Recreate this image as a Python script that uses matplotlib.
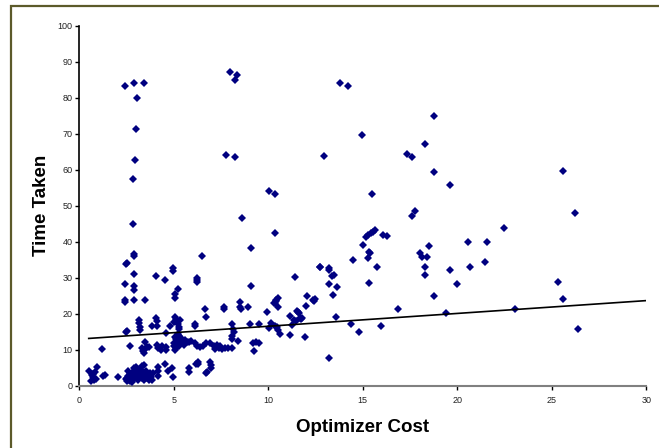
import matplotlib
matplotlib.use("Agg")
import matplotlib.pyplot as plt
from matplotlib.patches import Rectangle

plt.rcParams['font.family'] = ['Liberation Sans', 'DejaVu Sans']

# Optimizer cost vs time taken
cost = [
    2.43, 2.88, 3.44, 3.04, 2.98, 2.93, 2.86, 2.86,
    7.99, 8.33, 8.25, 7.78, 8.25, 10.02, 10.35, 8.59, 12.93,
    13.79, 14.2, 18.78, 14.94, 18.27, 17.32, 17.6, 18.78, 25.61, 19.61, 15.47, 17.78, 17.62, 26.23,
    22.47, 15.15, 15.29, 15.42, 15.52, 15.63, 16.05, 16.3, 15.01, 15.38, 15.33, 15.26, 14.46, 15.73,
    15.35, 18.01, 18.15, 18.42, 18.5, 18.27, 18.27, 18.78, 19.61, 20.0, 20.58, 20.66, 21.57, 21.47,
    16.88, 19.42, 23.07, 14.36, 14.82, 15.95, 13.58, 13.23,
    12.74, 13.21, 13.21, 13.35, 13.46, 13.21, 13.65, 13.41,
    25.31, 25.58, 26.37,
    10.37, 9.1, 6.51, 2.88, 2.88, 2.54, 2.46, 2.88, 4.04, 4.53, 4.94, 4.94, 5.24, 5.06, 5.06,
    6.22, 6.22, 6.22, 2.43, 2.88, 2.88, 2.43, 2.43, 2.88, 3.46, 9.1, 11.41, 12.72,
    10.5, 10.41, 10.32, 12.05, 12.45, 12.38,
    2.46, 2.52, 2.68, 1.2, 3.18, 3.18, 3.2, 3.2, 3.47, 3.3, 3.35, 3.4, 3.5, 3.6, 3.7,
    4.08, 4.1, 4.1, 3.83, 4.1, 4.15, 4.3, 4.4, 4.57, 4.6, 4.6, 4.78,
    5.05, 5.1, 5.15, 5.2, 5.25, 5.3, 5.0, 5.35,
    6.14, 6.13, 6.65, 6.69, 7.64, 7.64, 8.5, 8.5, 8.55, 8.94,
    5.0, 5.05, 5.1, 5.15, 5.2, 5.25, 5.3, 5.4, 5.45, 5.55, 5.6, 5.7, 5.0, 5.1, 5.3, 5.2, 5.08, 5.9, 5.8,
    6.1, 6.25, 6.4, 6.55, 6.7, 6.9, 7.15, 7.2, 7.3, 7.45, 7.55, 7.7, 7.85, 8.1, 7.4,
    8.06, 8.15, 8.2, 8.1, 8.1, 8.38, 9.05, 9.53, 9.92, 10.04, 10.14, 10.36, 10.43, 10.53,
    10.33, 10.47, 10.53, 10.64, 11.13, 11.16, 11.27,
    11.34, 11.45, 11.5, 11.55, 11.6, 11.7, 11.75, 11.8, 11.93, 12.0, 12.43,
    9.2, 9.36, 9.5, 9.26,
    6.26, 6.2, 6.3, 6.93, 6.95, 6.95, 6.74, 6.7,
    5.8, 5.8, 4.92, 4.97, 4.71, 4.56, 4.15, 4.15, 4.15, 3.9,
    2.05,
    0.5, 0.6, 0.7, 0.75, 0.85, 0.9, 0.95, 1.27, 1.36, 0.65, 0.8,
    2.5, 2.55, 2.6, 2.65, 2.7, 2.75, 2.8, 2.85, 2.9, 2.95, 3.0, 3.05, 3.1, 3.15, 3.2, 3.25, 3.3,
    3.35, 3.4, 3.45, 3.5, 3.55, 3.6, 3.65, 3.7, 3.75, 3.8, 2.6, 2.9, 3.0, 3.3, 2.7, 2.45, 3.4, 3.85,
]
time_taken = [
    83.3, 84.2, 84.1, 79.8, 71.2, 62.8, 57.4, 44.9,
    87.2, 86.4, 84.9, 64.1, 63.6, 54.0, 53.3, 46.6, 63.8,
    84.2, 83.3, 74.9, 69.7, 67.2, 64.4, 63.6, 59.4, 59.7, 55.7, 53.4, 48.6, 47.2, 47.9,
    43.9, 41.4, 41.9, 42.4, 42.8, 43.3, 42.0, 41.6, 39.1, 36.8, 37.3, 35.6, 35.1, 32.9,
    28.7, 37.0, 35.9, 35.7, 38.9, 32.9, 30.8, 25.0, 32.2, 28.2, 40.1, 33.1, 39.9, 34.3,
    21.3, 20.3, 21.5, 17.2, 14.9, 16.7, 19.1, 7.8,
    33.0, 32.8, 32.2, 30.5, 30.7, 28.2, 27.6, 25.3,
    28.8, 24.1, 15.8,
    42.6, 38.3, 36.2, 36.6, 36.1, 34.1, 34.0, 31.2, 30.6, 29.4, 32.7, 31.8, 26.9, 25.4, 24.3,
    30.1, 29.4, 28.8, 28.2, 27.8, 26.7, 23.8, 23.3, 23.8, 23.8, 27.7, 30.2, 32.9,
    24.5, 23.6, 22.9, 24.9, 24.1, 23.8,
    14.9, 15.2, 11.2, 10.3, 18.3, 17.6, 16.3, 15.5, 12.2, 10.5, 9.6, 9.2, 10.2, 10.9, 10.7,
    18.9, 18.0, 16.7, 16.7, 11.4, 10.5, 10.0, 11.0, 14.6, 10.9, 10.0, 16.7,
    19.2, 18.7, 17.8, 17.2, 16.5, 15.8, 17.8, 18.3,
    17.2, 16.7, 21.3, 19.1, 22.0, 21.3, 23.4, 21.8, 21.3, 21.8,
    12.0, 13.5, 13.0, 12.3, 11.8, 14.0, 12.5, 13.2, 12.0, 11.5, 12.8, 12.3, 11.0, 10.5, 11.2, 14.4, 10.1, 12.6, 12.1,
    11.8, 11.0, 10.8, 11.0, 11.8, 11.8, 11.0, 10.2, 11.5, 11.0, 10.2, 10.5, 10.5, 10.5, 10.5,
    17.2, 15.7, 15.0, 13.9, 13.0, 12.5, 17.2, 17.2, 20.6, 16.0, 17.6, 23.0, 23.9, 21.8,
    16.7, 16.3, 15.5, 14.4, 14.2, 19.4, 16.8,
    18.3, 18.0, 20.8, 20.5, 20.2, 19.0, 18.5, 18.8, 13.7, 22.2, 23.6,
    11.8, 12.3, 12.0, 9.7,
    6.6, 6.2, 6.0, 6.7, 5.8, 4.9, 4.0, 3.6,
    4.9, 4.0, 4.9, 2.4, 4.3, 6.1, 5.4, 4.2, 2.8, 3.6,
    2.4,
    4.1, 1.5, 2.5, 3.3, 3.8, 2.0, 5.4, 2.9, 3.1, 3.0, 1.8,
    1.5, 2.2, 2.8, 1.8, 3.2, 2.5, 1.2, 3.8, 2.0, 4.4, 2.8, 3.5, 1.8, 2.5, 4.8, 3.0, 2.2,
    3.8, 2.6, 5.8, 3.2, 4.2, 2.2, 2.8, 1.8, 3.5, 2.5, 4.2, 5.0, 5.3, 5.5, 1.5, 2.0, 1.6, 1.8,
]

# linear trendline, end points
trend_x = [0.5, 30]
trend_y = [13.2, 23.7]

fig = plt.figure(figsize=(6.59, 4.48), dpi=100)
ax = fig.add_axes([0.1203, 0.1384, 0.8604, 0.8042])

ax.plot(cost, time_taken, linestyle='none', marker='D', ms=3.6, mew=0, color='#000080', zorder=3)
ax.plot(trend_x, trend_y, color='black', lw=1.2, zorder=4)

ax.set_xlim(0, 30)
ax.set_ylim(0, 100)
ax.set_xticks(range(0, 31, 5))
ax.set_yticks(range(0, 101, 10))

for side in ['top', 'right']:
    ax.spines[side].set_visible(False)
ax.spines['left'].set_color('black')
ax.spines['left'].set_linewidth(1.2)
ax.spines['bottom'].set_color('#808080')
ax.spines['bottom'].set_linewidth(1.5)
ax.tick_params(axis='both', labelsize=6.5, length=3, width=1, color='black',
               labelcolor='#222222', pad=2)
ax.tick_params(axis='x', pad=4)

ax.set_xlabel('Optimizer Cost', fontsize=13.5, fontweight='bold', labelpad=10)
ax.set_ylabel('Time Taken', fontsize=13.5, fontweight='bold', labelpad=5)

# chart area border (only top and left edges fall inside the image)
fig.patches.append(Rectangle((11 / 659, -0.1), 1.1, 1 - 6 / 448 + 0.1, transform=fig.transFigure,
                             fill=False, edgecolor='#5c5a2a', lw=1.6, zorder=0))

fig.savefig('out.png', dpi=100)
